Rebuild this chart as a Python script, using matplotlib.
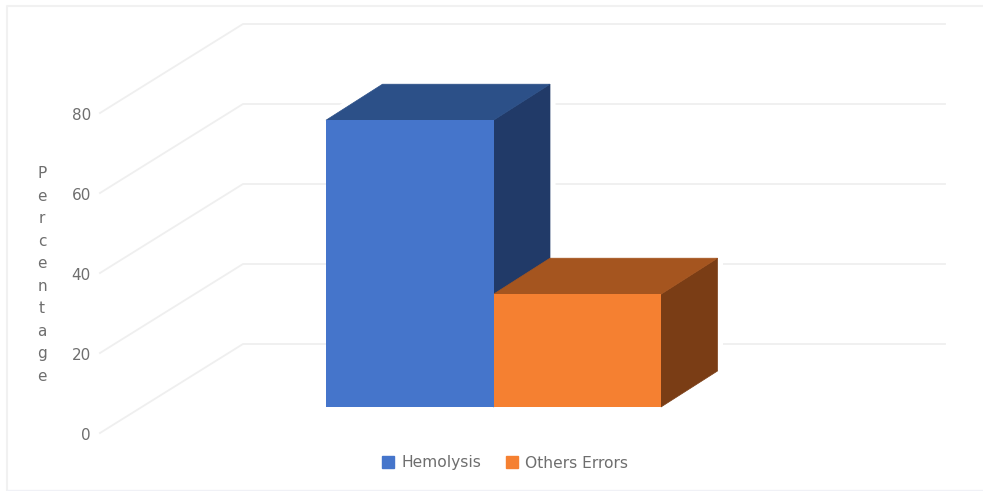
import matplotlib
matplotlib.use("Agg")
import matplotlib.pyplot as plt
from matplotlib.patches import Patch, Polygon

plt.rcParams['font.family'] = ['DejaVu Sans']

# data
categories = ["Hemolysis", "Others Errors"]
values = [71.7, 28.2]
ticks = [0, 20, 40, 60, 80]
front_colors = ["#4575CB", "#F58031"]
top_colors = ["#2C5088", "#A5551F"]
side_colors = ["#213A68", "#7A3D15"]

# oblique projection, x in pixels and y in percentage units (4 px per unit)
wall_dx, wall_dy = 143, -22.25
bar_dx, bar_dy = 56.5, 9
bar_floor = -15.75
bar_left = 326
bar_width = 167.5
wall_x = 243
right_x = 945
grid_col = "#EFEFEF"
text_col = "#6E6E6E"

fig = plt.figure(figsize=(9.83, 4.91), dpi=100)
ax = fig.add_axes([0, 0, 1, 1])
ax.set_xlim(0, 983)
ax.set_ylim(-36.75, 86)
ax.axis("off")

# chart border
ax.plot([7, 7, 983], [-36.5, 84.5, 84.5], color="#F1F1F1", lw=1.5)
ax.plot([7, 983], [-36.5, -36.5], color="#F0F1F6", lw=1)

# walls and tick labels
front_x = wall_x - wall_dx
for t in ticks:
    ax.plot([front_x, wall_x, right_x], [t + wall_dy, t, t], color=grid_col, lw=1.3, zorder=1)
    ax.text(91, t + wall_dy - 0.7, str(t), ha="right", va="center", fontsize=11, color=text_col)

# bars
xs = [bar_left + i * bar_width for i in range(len(values))]
ax.bar(xs, values, width=bar_width, bottom=bar_floor, align="edge", color=front_colors, zorder=4)
for i, v in enumerate(values):
    x0 = xs[i]
    x1 = x0 + bar_width
    top = bar_floor + v
    side = [(x1, bar_floor), (x1 + bar_dx, bar_floor + bar_dy), (x1 + bar_dx, top + bar_dy), (x1, top)]
    roof = [(x0, top), (x0 + bar_dx, top + bar_dy), (x1 + bar_dx, top + bar_dy), (x1, top)]
    # white halo leaves the small gap next to the gridlines
    ax.add_patch(Polygon(side, closed=True, fc="white", ec="white", lw=8, zorder=2))
    ax.add_patch(Polygon(roof, closed=True, fc="white", ec="white", lw=8, zorder=2))
    ax.add_patch(Polygon(side, closed=True, fc=side_colors[i], ec=side_colors[i], lw=0.5, zorder=3))
    ax.add_patch(Polygon(roof, closed=True, fc=top_colors[i], ec=top_colors[i], lw=0.5, zorder=3))

# stacked axis title
ax.text(42, 17.25, "\n".join("Percentage"), ha="center", va="center",
        fontsize=11, color=text_col, linespacing=1.63)

handles = [Patch(color=c) for c in front_colors]
ax.legend(handles, categories, ncol=2, frameon=False, fontsize=11.2, labelcolor=text_col,
          loc="center", bbox_to_anchor=(505 / 983, 1 - 463 / 491),
          handlelength=0.8, handleheight=0.8, handletextpad=0.45, columnspacing=1.6)

fig.savefig("out.png", dpi=100)
